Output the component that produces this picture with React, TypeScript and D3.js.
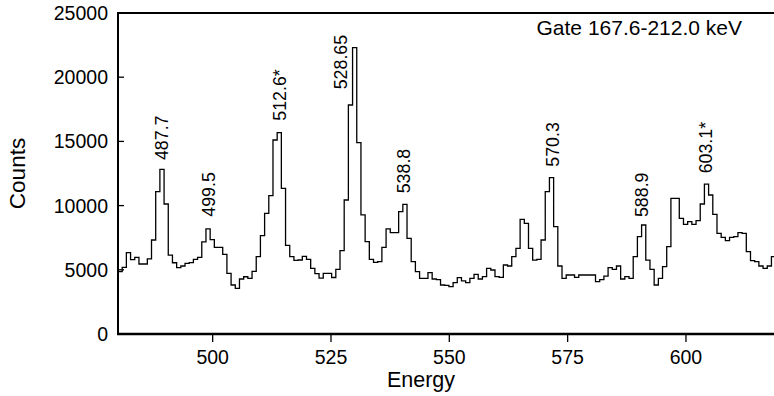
import React from "react";
import * as d3 from "d3";

// Histogram: bins start at 480 keV, width BIN_WIDTH keV
const START_ENERGY = 480;
const BIN_WIDTH = 0.885;
const counts: number[] = [
  4855, 5190, 6335, 5800, 5970, 5450, 5450, 5850, 7320, 11085,
  12825, 10125, 6150, 5550, 5165, 5295, 5505, 5555, 5815, 5970,
  7170, 8180, 7350, 6750, 6750, 6200, 4727, 3815, 3555, 4285,
  4460, 4335, 4880, 6020, 7655, 9400, 10770, 15110, 15680, 11345,
  6900, 6020, 5730, 5765, 6050, 5815, 5115, 4700, 4350, 4727,
  4727, 4400, 5040, 6490, 10435, 17835, 22300, 14900, 9270, 7190,
  5815, 5585, 5630, 6750, 8180, 7890, 7890, 9530, 10100, 7450,
  5630, 4855, 4335, 4335, 4775, 4285, 4230, 3815, 3790, 3685,
  3995, 4385, 4130, 3995, 4335, 4650, 4285, 4465, 5115, 4985,
  4465, 4415, 5375, 5295, 6020, 6670, 8930, 8620, 6670, 5760,
  5815, 7320, 11085, 12175, 8360, 5295, 4335, 4595, 4595, 4415,
  4595, 4595, 4595, 4595, 4075, 4230, 4515, 5165, 5040, 5295,
  4285, 4465, 4335, 6020, 7580, 8490, 5760, 5040, 3815, 4335,
  5245, 6800, 10565, 10565, 9010, 8540, 8750, 8540, 8830, 10125,
  11680, 10825, 9320, 7840, 7530, 7270, 7530, 7580, 7890, 7840,
  6410, 5710, 5630, 5295, 5115, 5295, 6020,
];

const xTicks = [500, 525, 550, 575, 600];
const yTicks = [0, 5000, 10000, 15000, 20000, 25000];

const peakLabels = ["487.7", "499.5", "512.6*", "528.65", "538.8", "570.3", "588.9", "603.1*"];
const peakEnergy = [489.2, 499.1, 514.2, 527.0, 540.4, 571.9, 590.6, 604.1];
const peakCount = [13550, 9135, 16610, 19060, 10960, 13030, 9110, 12515];

const gateText = "Gate 167.6-212.0 keV";

const W = 774;
const H = 396;
const FONT = "'Liberation Sans', Arial, Helvetica, sans-serif";

export default function App() {
  const x = d3.scaleLinear().domain([480, 620]).range([118, 118 + 140 * 4.733]);
  const y = d3.scaleLinear().domain([0, 25000]).range([334, 13]);

  const pts: [number, number][] = counts.map((c, i) => [START_ENERGY + i * BIN_WIDTH, c]);
  pts.push([START_ENERGY + counts.length * BIN_WIDTH, counts[counts.length - 1]]);
  const line = d3
    .line<[number, number]>()
    .x((d) => x(d[0]))
    .y((d) => y(d[1]))
    .curve(d3.curveStepAfter);

  const left = x(480);
  const top = y(25000);
  const bottom = y(0);

  return (
    <svg
      width={W}
      height={H}
      style={{ position: "absolute", left: 0, top: 0, background: "#fff" }}
      fontFamily={FONT}
    >
      <defs>
        <clipPath id="plot">
          <rect x={left} y={0} width={W - left} height={bottom} />
        </clipPath>
      </defs>
      <path d={line(pts) || ""} fill="none" stroke="#000" strokeWidth={1.3} clipPath="url(#plot)" />
      {/* frame */}
      <line x1={left} x2={W} y1={top} y2={top} stroke="#000" strokeWidth={2} />
      <line x1={left} x2={left} y1={top - 1} y2={bottom + 1} stroke="#000" strokeWidth={2} />
      <line x1={left - 1} x2={W} y1={bottom} y2={bottom} stroke="#000" strokeWidth={2.3} />
      {/* y ticks */}
      {yTicks.map((t) => (
        <g key={"y" + t}>
          <line x1={left} x2={left + 6} y1={y(t)} y2={y(t)} stroke="#000" strokeWidth={1.3} />
          <text x={108} y={y(t) + 7} textAnchor="end" fontSize={19.5} fill="#000">
            {t}
          </text>
        </g>
      ))}
      {/* x ticks */}
      {xTicks.map((t) => (
        <g key={"x" + t}>
          <line x1={x(t)} x2={x(t)} y1={bottom} y2={bottom + 8} stroke="#000" strokeWidth={1.3} />
          <text x={x(t)} y={363.5} textAnchor="middle" fontSize={19.5} fill="#000">
            {t}
          </text>
        </g>
      ))}
      <text x={(left + 780) / 2 - 28} y={387} textAnchor="middle" fontSize={21.5} fill="#000">
        Energy
      </text>
      <text
        transform={`translate(25,${(top + bottom) / 2}) rotate(-90)`}
        textAnchor="middle"
        fontSize={22.5}
        fill="#000"
      >
        Counts
      </text>
      <text x={742} y={35} textAnchor="end" fontSize={21} fill="#000">
        {gateText}
      </text>
      {peakLabels.map((lab, i) => (
        <text
          key={lab}
          transform={`translate(${x(peakEnergy[i]) + 6.3},${y(peakCount[i])}) rotate(-90)`}
          textAnchor="start"
          fontSize={17.8}
          fill="#000"
        >
          {lab}
        </text>
      ))}
    </svg>
  );
}
